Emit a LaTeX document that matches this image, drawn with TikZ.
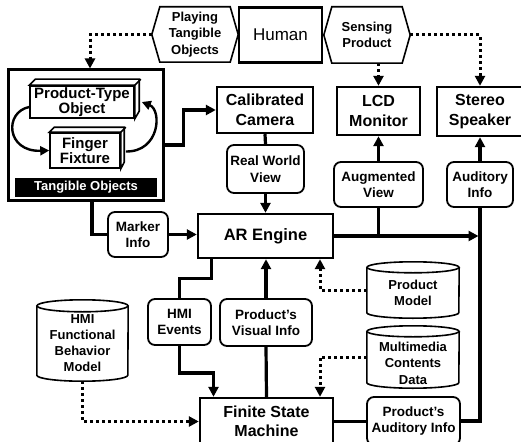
\documentclass[tikz,border=0pt]{standalone}
\usepackage{fontspec}
\setmainfont{Liberation Sans}
\usetikzlibrary{arrows.meta}
\newcommand{\cylinderdraw}[3]{%
  \draw[line width=1.6pt] ([yshift=-#3]#1.north west) -- ([yshift=#3]#1.south west)
    arc[start angle=180,end angle=360,x radius=#2,y radius=#3] -- ([yshift=-#3]#1.north east);
  \draw[line width=1.6pt] ([yshift=-#3]#1.north) ellipse[x radius=#2,y radius=#3];
}
\newcommand{\hexdraw}[1]{%
  \draw[line width=1.6pt] (#1.west) -- ([xshift=8pt]#1.north west) -- ([xshift=-8pt]#1.north east)
    -- (#1.east) -- ([xshift=-8pt]#1.south east) -- ([xshift=8pt]#1.south west) -- cycle;
}
\begin{document}
\begin{tikzpicture}[x=1pt,y=-1pt,
  bigbox/.style={draw, line width=2.4pt, fill=white, inner sep=0pt, align=center,
    font=\bfseries\fontsize{16}{19.5}\selectfont},
  rbox/.style={draw, line width=1.8pt, rounded corners=7pt, inner sep=0pt, align=center,
    font=\bfseries\fontsize{13.5}{16.5}\selectfont},
  lbl/.style={inner sep=0pt, align=center, font=\bfseries\fontsize{13}{16.5}\selectfont},
  cube/.style={draw, line width=1.6pt, fill=white, inner sep=0pt, align=center,
    font=\bfseries\fontsize{15}{15.5}\selectfont},
  flow/.style={line width=3.2pt},
  arr/.style={flow, -{Triangle[length=10pt,width=10pt]}},
  dots/.style={line width=3pt, dash pattern=on 3pt off 3pt, -{Triangle[length=10pt,width=10pt]}},
  curvarr/.style={line width=2.4pt, -{Triangle[length=9pt,width=9pt]}}
]
\useasboundingbox (0,0) rectangle (521,441);

% top row
\node[lbl, minimum width=86pt, minimum height=55pt] (play) at (195,34.5) {Playing\\Tangible\\Objects};
\hexdraw{play}
\node[draw, line width=2.2pt, inner sep=0pt, minimum width=83pt, minimum height=55pt,
  font=\fontsize{17}{20}\selectfont] (human) at (280.5,35) {Human};
\node[lbl, minimum width=86pt, minimum height=56pt] (sens) at (367,35) {Sensing\\Product};
\hexdraw{sens}

% tangible objects group
\node[draw, line width=3pt, minimum width=155pt, minimum height=130pt, inner sep=0pt] (tang) at (85.5,135) {};
\node[fill=black, text=white, minimum width=142pt, minimum height=19pt, inner sep=0pt,
  font=\bfseries\fontsize{13}{15}\selectfont] (tlab) at (86,187.5) {Tangible Objects};
\node[cube, minimum width=104pt, minimum height=32pt] (pto) at (82,102) {Product-Type\\Object};
\draw[line width=1.6pt, fill=white] (pto.north west) -- ++(6,-6) -- ++(104,0) -- ++(0,32) -- (pto.south east) -- (pto.north east) -- cycle;
\draw[line width=1.6pt] (pto.north east) -- ++(6,-6);
\node[cube, minimum width=70pt, minimum height=35pt] (ff) at (85,150.5) {Finger\\Fixture};
\draw[line width=1.6pt, fill=white] (ff.north west) -- ++(5,-5) -- ++(70,0) -- ++(0,35) -- (ff.south east) -- (ff.north east) -- cycle;
\draw[line width=1.6pt] (ff.north east) -- ++(5,-5);
\draw[curvarr] ([yshift=-5pt]pto.west) .. controls (4,112) and (6,152) .. (ff.west);
\draw[curvarr] ([xshift=5pt,yshift=-1pt]ff.east) .. controls (160,152) and (162,110) .. ([xshift=7pt]pto.east);

% second row
\node[bigbox, minimum width=96pt, minimum height=46pt] (cam) at (265,110) {Calibrated\\Camera};
\node[bigbox, minimum width=83pt, minimum height=48pt] (lcd) at (378.5,111) {LCD\\Monitor};
\node[bigbox, minimum width=86pt, minimum height=49pt] (stereo) at (480,111.5) {Stereo\\Speaker};

\node[rbox, minimum width=77pt, minimum height=48pt] (rwv) at (265.5,169) {Real World\\View};
\node[rbox, minimum width=89pt, minimum height=45pt] (aug) at (378.5,184.5) {Augmented\\View};
\node[rbox, minimum width=66pt, minimum height=45pt] (aud) at (480,184.5) {Auditory\\Info};

\node[bigbox, minimum width=135pt, minimum height=44pt, font=\bfseries\fontsize{16.5}{19.5}\selectfont] (ar) at (265.5,236) {AR Engine};
\node[rbox, minimum width=60pt, minimum height=45pt] (mark) at (138,234.5) {Marker\\Info};

\node[rbox, minimum width=63pt, minimum height=46pt] (hmi) at (179.5,322) {HMI\\Events};
\node[rbox, minimum width=92pt, minimum height=47pt] (pvi) at (266,322.5) {Product's\\Visual Info};

\node[bigbox, minimum width=133pt, minimum height=47pt] (fsm) at (266.5,421.5) {Finite State\\Machine};
\node[rbox, minimum width=93pt, minimum height=48pt, font=\bfseries\fontsize{13.5}{16}\selectfont] (pai) at (413.5,421) {Product's\\Auditory Info};

% cylinders
\node[inner sep=0pt, minimum width=92pt, minimum height=56pt] (pm) at (413,290) {};
\cylinderdraw{pm}{46pt}{5.5pt}
\node[lbl] (pmt) at ([yshift=-3pt]pm.center) {Product\\Model};
\node[inner sep=0pt, minimum width=92pt, minimum height=62pt] (mcd) at (413,357) {};
\cylinderdraw{mcd}{46pt}{5.5pt}
\node[lbl] (mcdt) at ([yshift=-6pt]mcd.center) {Multimedia\\Contents\\Data};
\node[inner sep=0pt, minimum width=91pt, minimum height=81pt] (hfbm) at (82.5,340.5) {};
\cylinderdraw{hfbm}{45.5pt}{6pt}
\node[lbl, font=\bfseries\fontsize{13}{16}\selectfont] (hfbmt) at ([yshift=-2.5pt]hfbm.center) {HMI\\Functional\\Behavior\\Model};

% dotted connectors
\draw[dots] (play.west) -| ([xshift=4.5pt]tang.north);
\draw[dots] (sens.south -| lcd.north) -- (lcd.north);
\draw[dots] (sens.east) -| (stereo.north);
\draw[dots] (pm.west) -| ([xshift=54.5pt]ar.south);
\draw[dots] (mcd.west) -| ([xshift=53.5pt]fsm.north);
\draw[dots] (hfbm.south) |- (fsm.west);

% solid connectors
\draw[arr] ([yshift=-10pt]tang.east) -- ++(19,0) |- (cam.west);
\draw[flow] (cam.south) -- (rwv.north);
\draw[arr] (rwv.south) -- (ar.north);
\draw[flow] ([xshift=6.5pt]tang.south) |- (mark.west);
\draw[arr] (mark.east) -- (mark.east -| ar.west);
\draw[arr, shorten >=1.5pt] (ar.east) -- (ar.east -| aud.south);
\draw[flow] (aug.south |- ar.east) -- (aug.south);
\draw[arr] (aug.north) -- (lcd.south);
\draw[flow] (pai.east) -| (aud.south);
\draw[arr] (aud.north) -- (stereo.south);
\draw[flow] ([xshift=-54pt]ar.south) -- ++(0,19) -| (hmi.north);
\draw[arr] (hmi.south) -- ++(0,27) -| ([xshift=-53pt]fsm.north);
\draw[flow] (fsm.north) -- (pvi.south);
\draw[arr] (pvi.north) -- (pvi.north |- ar.south);
\draw[flow] (fsm.east) -- (fsm.east -| pai.west);
\end{tikzpicture}
\end{document}
